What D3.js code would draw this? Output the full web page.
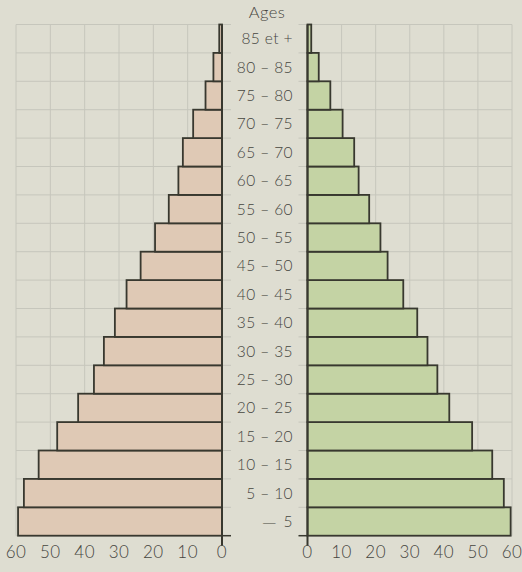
<!DOCTYPE html>
<html>
<head>
<meta charset="utf-8">
<script src="https://cdn.jsdelivr.net/npm/d3@7"></script>
<style>
  body { margin: 0; background: #deddd1; }
  svg { display: block; }
  text { font-family: Lato, "Open Sans", sans-serif; font-weight: 300; fill: #46463f; }
</style>
</head>
<body>
<div id="chart"></div>
<script>
// age groups, from youngest to oldest
const ages = ["— 5", "5 – 10", "10 – 15", "15 – 20", "20 – 25", "25 – 30", "30 – 35",
  "35 – 40", "40 – 45", "45 – 50", "50 – 55", "55 – 60", "60 – 65", "65 – 70",
  "70 – 75", "75 – 80", "80 – 85", "85 et +"];
// left pyramid (pink) and right pyramid (green)
const leftValues = [59.4, 57.7, 53.4, 48.0, 41.9, 37.3, 34.4, 31.2, 27.8, 23.7,
  19.5, 15.5, 12.7, 11.4, 8.4, 4.8, 2.5, 0.8];
const rightValues = [59.6, 57.6, 54.2, 48.3, 41.6, 38.1, 35.2, 32.2, 28.1, 23.5,
  21.4, 18.1, 15.0, 13.7, 10.3, 6.7, 3.3, 1.1];
const ticks = [0, 10, 20, 30, 40, 50, 60];

const width = 522, height = 572;
const plotTop = 24.5, plotBottom = 535.7;

const svg = d3.select("#chart").append("svg")
  .attr("width", width).attr("height", height);

const y = d3.scaleBand().domain(ages).range([plotBottom, plotTop]).padding(0);
const xl = d3.scaleLinear().domain([0, 60]).range([222, 16]);
const xr = d3.scaleLinear().domain([0, 60]).range([307.5, 512]);

const gridColor = "#c6c6bc";
const rowEdges = ages.map(a => y(a)).concat([plotBottom]);

// grids
[xl, xr].forEach((x, k) => {
  const g = svg.append("g");
  g.selectAll(".v").data(ticks.slice(1)).join("line")
    .attr("x1", d => x(d)).attr("x2", d => x(d))
    .attr("y1", plotTop).attr("y2", plotBottom)
    .attr("stroke", gridColor).attr("stroke-width", 1);
  g.selectAll(".h").data(rowEdges).join("line")
    .attr("x1", x(0) + (k === 0 ? 9 : -9)).attr("x2", x(60))
    .attr("y1", d => d).attr("y2", d => d)
    .attr("stroke", gridColor).attr("stroke-width", 1);
});

// bars
function drawBars(x, values, fill) {
  svg.append("g").selectAll("rect").data(values).join("rect")
    .attr("x", d => Math.min(x(0), x(d)))
    .attr("width", d => Math.abs(x(d) - x(0)))
    .attr("y", (d, i) => y(ages[i]))
    .attr("height", y.bandwidth())
    .attr("fill", fill)
    .attr("stroke", "#38382f")
    .attr("stroke-width", 1.8);
}
drawBars(xl, leftValues, "#dfc9b5");
drawBars(xr, rightValues, "#c4d3a4");

// zero axes
[xl, xr].forEach((x, k) => {
  svg.append("line")
    .attr("x1", x(0)).attr("x2", x(0))
    .attr("y1", plotTop).attr("y2", plotBottom + 10)
    .attr("stroke", "#38382f").attr("stroke-width", 2);
  svg.append("line")
    .attr("x1", x(0)).attr("x2", x(0) + (k === 0 ? 9 : -9))
    .attr("y1", plotBottom).attr("y2", plotBottom)
    .attr("stroke", "#38382f").attr("stroke-width", 1.5);
});

// axis tick labels
[xl, xr].forEach(x => {
  svg.append("g").selectAll("text").data(ticks).join("text")
    .attr("x", d => x(d)).attr("y", 558)
    .attr("text-anchor", "middle")
    .attr("font-size", 17)
    .attr("letter-spacing", 0.5)
    .text(d => d);
});

// age labels (the long dash of the first one is drawn wider, as in the print)
svg.append("g").selectAll("text").data(ages).join("text")
  .attr("x", 293)
  .attr("y", d => y(d) + y.bandwidth() / 2 + 5.5)
  .attr("text-anchor", "end")
  .attr("font-size", 15.5)
  .attr("letter-spacing", 0.4)
  .each(function (d) {
    const t = d3.select(this);
    if (d.startsWith("—")) {
      t.append("tspan").style("font-family", "'DejaVu Sans'").attr("font-size", 14).text("—");
      t.append("tspan").attr("dx", 7).text(d.slice(1).trim());
    } else {
      t.text(d);
    }
  });

svg.append("text")
  .attr("x", 267).attr("y", 18)
  .attr("text-anchor", "middle")
  .attr("font-size", 16.5)
  .attr("letter-spacing", 0.5)
  .text("Ages");
</script>
</body>
</html>
